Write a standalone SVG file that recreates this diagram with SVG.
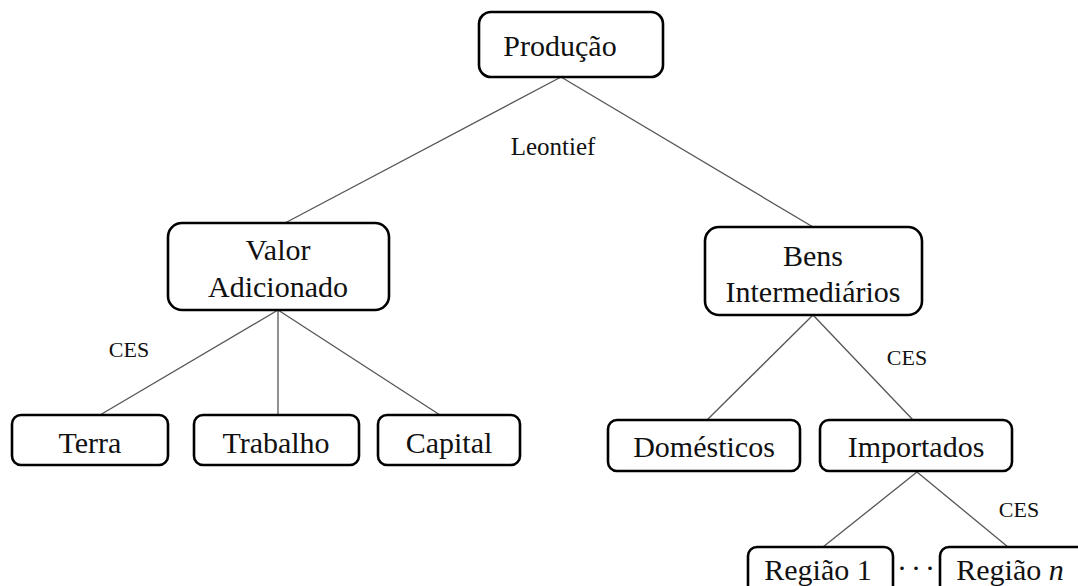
<svg xmlns="http://www.w3.org/2000/svg" width="1078" height="586" viewBox="0 0 1078 586">
<style>
.box{fill:#fff;stroke:#000;stroke-width:2.6}
.t{font-family:"Liberation Serif","Times New Roman",serif;font-size:30px;fill:#111;text-anchor:middle}
.lbl{font-family:"Liberation Serif","Times New Roman",serif;font-size:22px;fill:#111;text-anchor:middle}
.c line{stroke:#555;stroke-width:1.3}
</style>
<rect width="1078" height="586" fill="#fff"/>
<g class="c" id="connectors">
<line x1="561" y1="77" x2="285" y2="223"/>
<line x1="561" y1="77" x2="813" y2="227"/>
<line x1="278" y1="310" x2="100" y2="415"/>
<line x1="278" y1="310" x2="278" y2="415"/>
<line x1="278" y1="310" x2="440" y2="415"/>
<line x1="813" y1="315" x2="707" y2="420"/>
<line x1="813" y1="315" x2="913" y2="420"/>
<line x1="917" y1="472" x2="823" y2="547"/>
<line x1="917" y1="472" x2="1008" y2="547"/>
</g>
<g id="labels">
<text class="lbl" x="553" y="155" style="font-size:25px">Leontief</text>
<text class="lbl" x="129" y="357">CES</text>
<text class="lbl" x="907" y="365">CES</text>
<text class="lbl" x="1019" y="517">CES</text>
</g>
<g id="producao"><rect class="box" x="479" y="12" width="184" height="65" rx="12"/><text class="t" x="560" y="56">Produção</text></g>
<g id="valor"><rect class="box" x="168" y="223" width="221" height="87" rx="14"/><text class="t" x="278" y="260">Valor</text><text class="t" x="278" y="297">Adicionado</text></g>
<g id="bens"><rect class="box" x="705" y="227" width="217" height="88" rx="14"/><text class="t" x="813" y="266">Bens</text><text class="t" x="813" y="302">Intermediários</text></g>
<g id="terra"><rect class="box" x="12" y="415" width="156" height="50" rx="9"/><text class="t" x="90" y="453">Terra</text></g>
<g id="trabalho"><rect class="box" x="194" y="415" width="165" height="50" rx="9"/><text class="t" x="276" y="453">Trabalho</text></g>
<g id="capital"><rect class="box" x="378" y="415" width="142" height="50" rx="9"/><text class="t" x="449" y="453">Capital</text></g>
<g id="domesticos"><rect class="box" x="608" y="420" width="192" height="51" rx="9"/><text class="t" x="704" y="457">Domésticos</text></g>
<g id="importados"><rect class="box" x="820" y="420" width="192" height="51" rx="9"/><text class="t" x="916" y="457">Importados</text></g>
<g id="regiao1"><rect class="box" x="748" y="547" width="145" height="60" rx="9"/><text class="t" x="818" y="580">Região 1</text></g>
<g id="ellipsis"><text class="t" x="918" y="578" style="letter-spacing:4px">···</text></g>
<g id="regiaon"><rect class="box" x="940" y="547" width="160" height="60" rx="9"/><text class="t" x="1010" y="580">Região <tspan font-style="italic">n</tspan></text></g>
</svg>
